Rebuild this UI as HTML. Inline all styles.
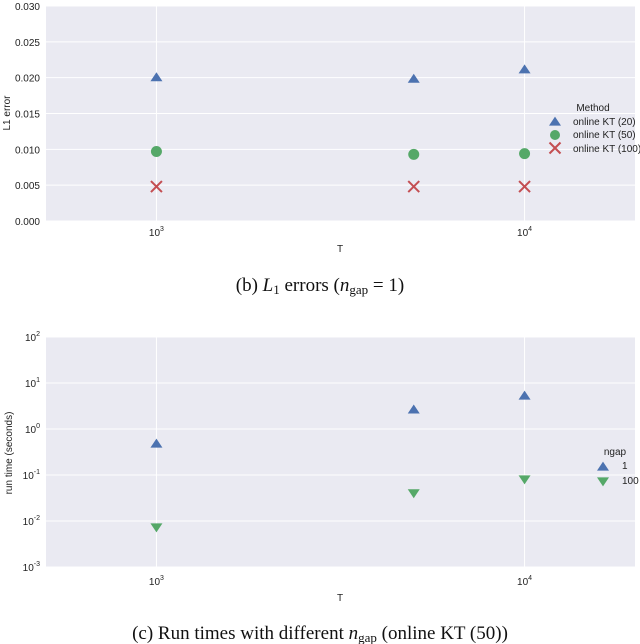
<!DOCTYPE html>
<html><head><meta charset="utf-8"><style>
body{margin:0;background:#fff;}
svg{display:block;font-family:"Liberation Sans",sans-serif;}
.tk{font-size:10px;fill:#222;}
.cap{font-family:"Liberation Serif",serif;font-size:19px;fill:#111;}
</style></head><body>
<svg id="s" width="640" height="644" viewBox="0 0 640 644"></svg>
<script>
const Tvals=[1000,5000,10000];
const errKT20=[0.0200,0.0198,0.0211];
const errKT50=[0.0097,0.0093,0.0094];
const errKT100=[0.0048,0.0048,0.0048];
const errTicks=[0,0.005,0.010,0.015,0.020,0.025,0.030];
const errTickLabels=["0.000","0.005","0.010","0.015","0.020","0.025","0.030"];
const rtNgap1=[0.47,2.6,5.2];
const rtNgap100=[0.0074,0.041,0.082];
const rtTickExp=[-3,-2,-1,0,1,2];
const xTickExp=[3,4];

const NS="http://www.w3.org/2000/svg";
const svg=document.getElementById('s');
function el(tag,attrs,parent,text){const e=document.createElementNS(NS,tag);for(const k in attrs)e.setAttribute(k,attrs[k]);if(text!==undefined)e.textContent=text;(parent||svg).appendChild(e);return e;}
const L=46,R=635;
const xs=v=>L+(Math.log10(v)-2.70)/(4.30-2.70)*(R-L);
function sup(g,x,y,base,exp,anchor){const t=el('text',{x:x,y:y,class:'tk','text-anchor':anchor||'middle'},g);el('tspan',{},t,base);el('tspan',{dy:-5,'font-size':7},t,String(exp));return t;}
function tri(g,x,y,down,color){const s=6;const p=down?`${x-s},${y-s*0.6} ${x+s},${y-s*0.6} ${x},${y+s*0.9}`:`${x-s},${y+s*0.6} ${x+s},${y+s*0.6} ${x},${y-s*0.9}`;return el('polygon',{points:p,fill:color},g);}
function xmark(g,x,y){const s=5.5;const gg=el('g',{stroke:'#C44E52','stroke-width':2},g);el('line',{x1:x-s,y1:y-s,x2:x+s,y2:y+s},gg);el('line',{x1:x-s,y1:y+s,x2:x+s,y2:y-s},gg);return gg;}

// ---------- Chart 1 ----------
const T1=6,B1=221;
const ys1=v=>B1-v/0.030*(B1-T1);
const g1=el('g',{});

const bg1=el('rect',{x:L,y:T1,width:R-L,height:B1-T1,fill:'#EAEAF2'},g1);

errTicks.forEach((v,i)=>{el('line',{x1:L,x2:R,y1:ys1(v),y2:ys1(v),stroke:'#fff','stroke-width':1},g1);
 const t=el('text',{x:L-6,y:ys1(v)+4,class:'tk','text-anchor':'end'},g1,errTickLabels[i]);
 });
xTickExp.forEach(e=>{const x=xs(Math.pow(10,e));el('line',{x1:x,x2:x,y1:T1,y2:B1,stroke:'#fff'},g1);
 const t=sup(g1,x,236,'10',e);});
Tvals.forEach((T,i)=>{const x=xs(T);
 const a=tri(g1,x,ys1(errKT20[i]),false,'#4C72B0');
 const c=el('circle',{cx:x,cy:ys1(errKT50[i]),r:5.5,fill:'#55A868'},g1);
 const m=xmark(g1,x,ys1(errKT100[i]));});
let t=el('text',{x:340,y:252,class:'tk','font-size':11,'text-anchor':'middle'},g1,'T');
t=el('text',{x:10,y:113,class:'tk','text-anchor':'middle',transform:'rotate(-90 10 113)'},g1,'L1 error');
const lg1=el('g',{},g1);
el('text',{x:593,y:111,class:'tk','font-size':9,'text-anchor':'middle'},lg1,'Method');
tri(lg1,555,122,false,'#4C72B0');el('text',{x:573,y:125,class:'tk','font-size':9.5},lg1,'online KT (20)');
el('circle',{cx:555,cy:135,r:5,fill:'#55A868'},lg1);el('text',{x:573,y:138,class:'tk','font-size':9.5},lg1,'online KT (50)');
xmark(lg1,555,148);el('text',{x:573,y:152,class:'tk','font-size':9.5},lg1,'online KT (100)');
t=el('text',{x:320,y:291,class:'cap','text-anchor':'middle'});
el('tspan',{},t,'(b) ');el('tspan',{'font-style':'italic'},t,'L');el('tspan',{'font-size':13,dy:3},t,'1');el('tspan',{dy:-3},t,' errors (');el('tspan',{'font-style':'italic'},t,'n');el('tspan',{'font-size':13,dy:3},t,'gap');el('tspan',{dy:-3},t,' = 1)');

// ---------- Chart 2 ----------
const T2=337,B2=567;
const ys2=v=>B2-(Math.log10(v)+3)/5*(B2-T2);
const g2=el('g',{});

const bg2=el('rect',{x:L,y:T2,width:R-L,height:B2-T2,fill:'#EAEAF2'},g2);

rtTickExp.forEach(e=>{const y=ys2(Math.pow(10,e));el('line',{x1:L,x2:R,y1:y,y2:y,stroke:'#fff'},g2);
 const tt=sup(g2,L-6,y+4,'10',e,'end');});
xTickExp.forEach(e=>{const x=xs(Math.pow(10,e));el('line',{x1:x,x2:x,y1:T2,y2:B2,stroke:'#fff'},g2);
 const tt=sup(g2,x,585,'10',e);});
Tvals.forEach((T,i)=>{const x=xs(T);
 const a=tri(g2,x,ys2(rtNgap1[i]),false,'#4C72B0');
 const b=tri(g2,x,ys2(rtNgap100[i]),true,'#55A868');});
t=el('text',{x:340,y:601,class:'tk','font-size':11,'text-anchor':'middle'},g2,'T');
t=el('text',{x:12,y:453,class:'tk','text-anchor':'middle',transform:'rotate(-90 12 453)'},g2,'run time (seconds)');
const lg2=el('g',{},g2);
el('text',{x:615,y:455,class:'tk','font-size':9.5,'text-anchor':'middle'},lg2,'ngap');
tri(lg2,603,467,false,'#4C72B0');el('text',{x:622,y:469,class:'tk','font-size':10.5},lg2,'1');
tri(lg2,603,481,true,'#55A868');el('text',{x:622,y:484,class:'tk','font-size':10.5},lg2,'100');
t=el('text',{x:320,y:639,class:'cap','text-anchor':'middle'});
el('tspan',{},t,'(c) Run times with different ');el('tspan',{'font-style':'italic'},t,'n');el('tspan',{'font-size':13,dy:3},t,'gap');el('tspan',{dy:-3},t,' (online KT (50))');
</script>
</body></html>
